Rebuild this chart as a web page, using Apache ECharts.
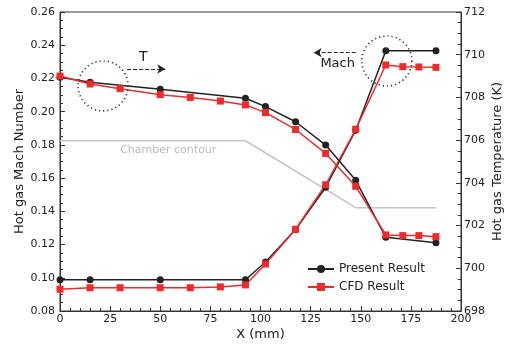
<!DOCTYPE html>
<html><head><meta charset="utf-8">
<script src="https://cdn.jsdelivr.net/npm/echarts@6/dist/echarts.min.js"></script>
<style>html,body{margin:0;padding:0;background:#fff}#c{width:509px;height:345px}</style>
</head><body><div id="c"></div>
<script>
var xPresent = [0, 15, 50, 92.5, 102.5, 117.5, 132.5, 147.5, 162.5, 187.5];
var machPresent = [0.0988, 0.0988, 0.0988, 0.0988, 0.1095, 0.1290, 0.1545, 0.1888, 0.2367, 0.2367];
var tempPresent = [708.94, 708.71, 708.38, 707.96, 707.57, 706.86, 705.77, 704.12, 701.45, 701.2];
var xCFD = [0, 15, 30, 50, 65, 80, 92.5, 102.5, 117.5, 132.5, 147.5, 162.5, 171, 179, 187.5];
var machCFD = [0.0931, 0.0940, 0.0940, 0.0940, 0.0940, 0.0945, 0.0957, 0.1083, 0.1292, 0.1560, 0.1894, 0.2281, 0.2271, 0.2269, 0.2267];
var tempCFD = [709.0, 708.63, 708.41, 708.13, 708.0, 707.83, 707.65, 707.29, 706.5, 705.38, 703.84, 701.56, 701.53, 701.53, 701.48];
var xContour = [0, 92.5, 147.5, 187.5];
var contour = [0.1825, 0.1825, 0.1422, 0.1422];

function zip(a, b) { return a.map(function (v, i) { return [v, b[i]]; }); }

var FONT = 'DejaVu Sans';
var black = '#222222', red = '#ee2a2a', gray = '#c4c4c4';
var chart = echarts.init(document.getElementById('c'), null, {renderer: 'canvas'});

function axisCommon() {
  return {
    axisLine: {show: true, lineStyle: {color: '#333', width: 1}},
    axisTick: {show: true, inside: true, length: 5, lineStyle: {color: '#333'}},
    minorTick: {show: true, length: 3, lineStyle: {color: '#333'}},
    splitLine: {show: false},
    nameMoveOverlap: false,
    axisLabel: {color: '#222', fontFamily: FONT, fontSize: 11},
    nameTextStyle: {color: '#222', fontFamily: FONT, fontSize: 13}
  };
}
var xa = axisCommon();
Object.assign(xa, {type: 'value', min: 0, max: 200, interval: 25, name: 'X (mm)', nameLocation: 'middle', nameGap: 17});
xa.minorTick.splitNumber = 5; xa.axisLabel.margin = 3;
var ya = axisCommon();
Object.assign(ya, {type: 'value', min: 0.08, max: 0.26, interval: 0.02, name: 'Hot gas Mach Number', nameLocation: 'middle', nameGap: 34, position: 'left'});
ya.minorTick.splitNumber = 4; ya.axisLabel.margin = 5; ya.axisLabel.formatter = function (v) { return v.toFixed(2); };
var yb = axisCommon();
Object.assign(yb, {type: 'value', min: 698, max: 712, interval: 2, name: 'Hot gas Temperature (K)', nameLocation: 'middle', nameGap: 30, position: 'right'});
yb.minorTick.splitNumber = 4; yb.axisLabel.margin = 3;

var lineS = function (name, data, yIdx, color, sym) {
  return {name: name, type: 'line', yAxisIndex: yIdx, data: data, color: color,
    symbol: sym, symbolSize: 7, showSymbol: true,
    lineStyle: {color: color, width: 1.5}, itemStyle: {color: color},
    animation: false, z: 3};
};

chart.setOption({
  animation: false,
  grid: {left: 60, right: 48, top: 12, bottom: 34, outerBoundsMode: 'none', containLabel: false,
    show: true, borderColor: '#333', borderWidth: 1, backgroundColor: 'transparent'},
  xAxis: xa,
  yAxis: [ya, yb],
  legend: {
    data: ['Present Result', 'CFD Result'], orient: 'vertical', left: 302, top: 258,
    itemWidth: 26, itemHeight: 10, itemGap: 6,
    textStyle: {color: '#222', fontFamily: FONT, fontSize: 12}
  },
  series: [
    {name: 'Chamber contour', type: 'line', yAxisIndex: 0, data: zip(xContour, contour), symbol: 'none',
      lineStyle: {color: gray, width: 1.5}, itemStyle: {color: gray}, z: 1, silent: true,
      markLine: {silent: true, symbol: ['none', 'arrow'], symbolSize: [7, 8], label: {show: false},
        lineStyle: {color: '#222', type: [4, 2], width: 1},
        data: [
          [{coord: [33.5, 0.2257]}, {coord: [52.5, 0.2257]}],
          [{coord: [147.5, 0.2355]}, {coord: [126.5, 0.2355]}]
        ]}},
    lineS('Present Result', zip(xPresent, machPresent), 0, black, 'circle'),
    lineS('CFD Result', zip(xCFD, machCFD), 0, red, 'rect'),
    lineS('Present Result', zip(xPresent, tempPresent), 1, black, 'circle'),
    lineS('CFD Result', zip(xCFD, tempCFD), 1, red, 'rect')
  ]
});

function px(x, y) { return chart.convertToPixel({xAxisIndex: 0, yAxisIndex: 0}, [x, y]); }
var c1 = px(21.5, 0.2155), c2 = px(163, 0.2305);
var tT = px(41.5, 0.2325), tM = px(138.5, 0.2287), tC = px(54, 0.1769);
var circ = function (c) {
  return {type: 'circle', shape: {cx: c[0], cy: c[1], r: 25},
    style: {fill: 'none', stroke: '#333', lineWidth: 1.6, lineDash: [1.2, 3]}, z: 10};
};
var txt = function (p, s, color, size) {
  return {type: 'text', x: p[0], y: p[1],
    style: {text: s, fill: color, font: size + 'px "' + FONT + '"', align: 'center', verticalAlign: 'middle'}, z: 10};
};
chart.setOption({graphic: [circ(c1), circ(c2), txt(tT, 'T', '#222', 14), txt(tM, 'Mach', '#222', 13), txt(tC, 'Chamber contour', '#bbbbbb', 11)]});
</script></body></html>
